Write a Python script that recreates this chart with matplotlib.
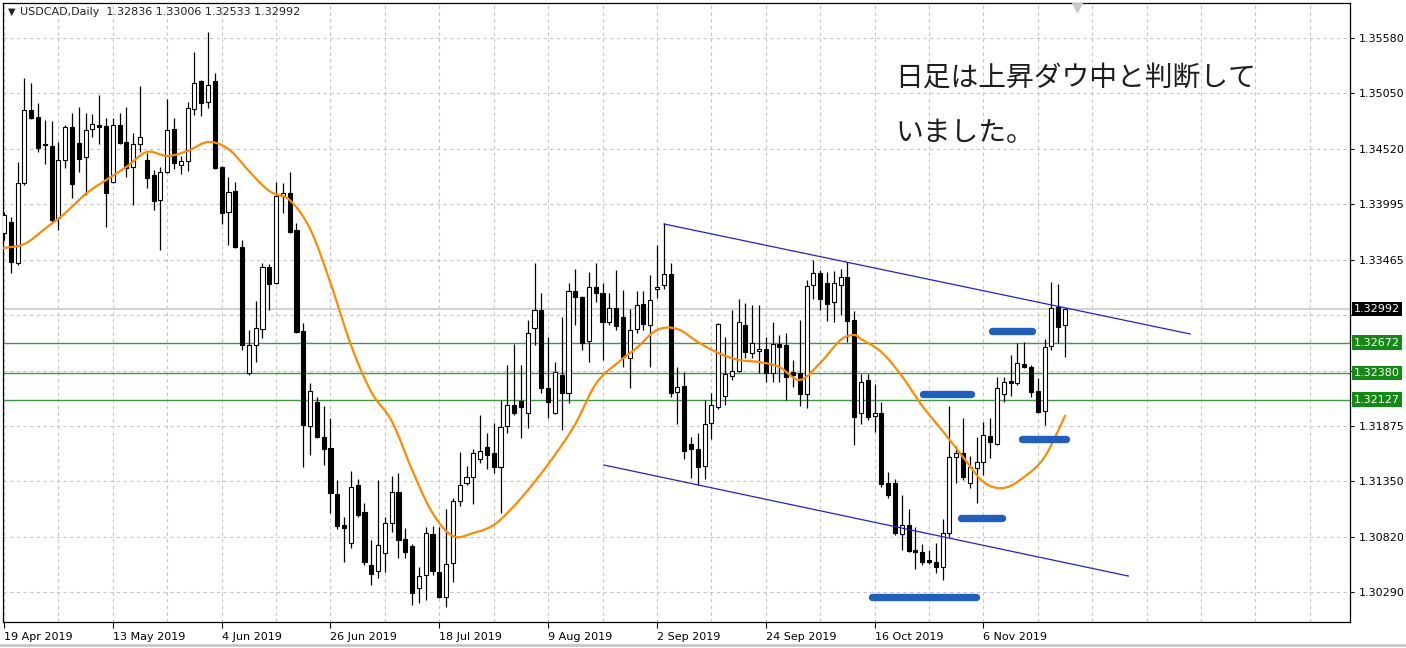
import numpy as np
import matplotlib.pyplot as plt
import matplotlib.transforms as mtransforms

# USDCAD daily candles, 19 Apr 2019 .. 22 Nov 2019
opens = [1.33718, 1.33823, 1.33432, 1.34196, 1.34893, 1.34826, 1.34568, 1.34549, 1.33862, 1.34415,
         1.34730, 1.34578, 1.34444, 1.34711, 1.34750, 1.34740, 1.34205, 1.34750, 1.34587, 1.34349,
         1.34568, 1.34415, 1.34272, 1.34033, 1.34301, 1.34711, 1.34368, 1.34406, 1.34902, 1.35170,
         1.34969, 1.35170, 1.34349, 1.33919, 1.34119, 1.33585, 1.32382, 1.32649, 1.32802, 1.33394,
         1.33241, 1.34072, 1.34100, 1.33747, 1.32783, 1.31876, 1.32105, 1.31771, 1.31666, 1.31226,
         1.30930, 1.30758, 1.31312, 1.31054, 1.30548, 1.30491, 1.30663, 1.30949, 1.31245, 1.30797,
         1.30730, 1.30329, 1.30453, 1.30844, 1.30482, 1.30243, 1.30568, 1.31160, 1.31331, 1.31389,
         1.31561, 1.31675, 1.31618, 1.31484, 1.31876, 1.32076, 1.32114, 1.32000, 1.32811, 1.32983,
         1.32238, 1.32000, 1.32363, 1.32191, 1.33165, 1.33107, 1.32687, 1.33203, 1.33145, 1.32869,
         1.33002, 1.32916, 1.32525, 1.32802, 1.33040, 1.32840, 1.33184, 1.33222, 1.33327, 1.32200,
         1.32258, 1.31704, 1.31656, 1.31494, 1.31904, 1.32057, 1.32162, 1.32353, 1.32401, 1.32840,
         1.32573, 1.32592, 1.32611, 1.32382, 1.32659, 1.32649, 1.32391, 1.32382, 1.32181, 1.33222,
         1.33336, 1.33241, 1.33060, 1.33222, 1.33298, 1.32888, 1.32000, 1.32315, 1.31971, 1.32000,
         1.31331, 1.31331, 1.30844, 1.30930, 1.30692, 1.30673, 1.30596, 1.30577, 1.30529, 1.30854,
         1.31580, 1.31618, 1.31331, 1.31475, 1.31532, 1.31780, 1.31704, 1.32181, 1.32305, 1.32286,
         1.32468, 1.32439, 1.32210, 1.32019, 1.32639, 1.33012, 1.32836]
highs = [1.33919, 1.33871, 1.34396, 1.35198, 1.35150, 1.34960, 1.34797, 1.34788, 1.34587, 1.34750,
         1.34864, 1.34921, 1.34864, 1.34855, 1.35036, 1.34816, 1.34816, 1.34864, 1.34921, 1.34673,
         1.35122, 1.34482, 1.34320, 1.34349, 1.34998, 1.34816, 1.34454, 1.34969, 1.35446, 1.35179,
         1.35637, 1.35246, 1.34358, 1.34253, 1.34205, 1.33652, 1.32792, 1.33069, 1.33432, 1.33422,
         1.34205, 1.34196, 1.34301, 1.33814, 1.32859, 1.32286, 1.32152, 1.32067, 1.31952, 1.31360,
         1.31007, 1.31446, 1.31370, 1.31140, 1.30787, 1.31360, 1.31007, 1.31398, 1.31427, 1.30902,
         1.30749, 1.30529, 1.30911, 1.30921, 1.30911, 1.31083, 1.31188, 1.31627, 1.31494, 1.31656,
         1.31981, 1.31809, 1.31904, 1.32124, 1.32458, 1.32659, 1.32458, 1.32888, 1.33432, 1.33145,
         1.32725, 1.32487, 1.32916, 1.33241, 1.33375, 1.33117, 1.33346, 1.33432, 1.33241, 1.33145,
         1.33365, 1.33174, 1.32993, 1.33165, 1.33165, 1.33317, 1.33604, 1.33814, 1.33432, 1.32439,
         1.32391, 1.31771, 1.31809, 1.32124, 1.32191, 1.32859, 1.32725, 1.32983, 1.33088, 1.33050,
         1.33031, 1.33031, 1.32725, 1.32869, 1.32744, 1.32764, 1.32506, 1.32888, 1.33270, 1.33461,
         1.33365, 1.33346, 1.33356, 1.33375, 1.33441, 1.32974, 1.32372, 1.32372, 1.32277, 1.32105,
         1.31436, 1.31370, 1.31217, 1.31083, 1.30911, 1.30749, 1.30692, 1.30758, 1.30988, 1.32067,
         1.31685, 1.31952, 1.31589, 1.31771, 1.31914, 1.31952, 1.32343, 1.32343, 1.32554, 1.32668,
         1.32678, 1.32458, 1.32334, 1.32706, 1.33251, 1.33231, 1.33006]
lows = [1.33652, 1.33336, 1.33413, 1.34177, 1.34807, 1.34492, 1.34377, 1.33814, 1.33747, 1.34339,
        1.34053, 1.34301, 1.34081, 1.34635, 1.34568, 1.33776, 1.34196, 1.34568, 1.34253, 1.33986,
        1.34492, 1.34148, 1.33938, 1.33556, 1.34291, 1.34329, 1.34282, 1.34310, 1.34845, 1.34835,
        1.34912, 1.34329, 1.33804, 1.33604, 1.33575, 1.32601, 1.32362, 1.32487, 1.32716, 1.32983,
        1.33231, 1.33909, 1.33718, 1.32764, 1.31484, 1.31599, 1.31761, 1.31503, 1.31045, 1.30892,
        1.30577, 1.30711, 1.31007, 1.30548, 1.30357, 1.30424, 1.30482, 1.30864, 1.30615, 1.30615,
        1.30167, 1.30186, 1.30214, 1.30453, 1.30233, 1.30147, 1.30386, 1.31112, 1.31312, 1.31131,
        1.31522, 1.31465, 1.31427, 1.31045, 1.31809, 1.31981, 1.31761, 1.31857, 1.32649, 1.32191,
        1.31952, 1.31990, 1.31837, 1.32095, 1.32840, 1.32601, 1.32487, 1.33060, 1.32506, 1.32840,
        1.32792, 1.32439, 1.32238, 1.32764, 1.32792, 1.32439, 1.33098, 1.33184, 1.32152, 1.31895,
        1.31561, 1.31379, 1.31312, 1.31370, 1.31751, 1.32038, 1.32076, 1.32315, 1.32391, 1.32525,
        1.32525, 1.32382, 1.32296, 1.32296, 1.32296, 1.32124, 1.32248, 1.32067, 1.32047, 1.33088,
        1.32983, 1.32878, 1.32869, 1.32935, 1.32678, 1.31694, 1.31895, 1.31933, 1.31818, 1.31293,
        1.31188, 1.30835, 1.30692, 1.30673, 1.30510, 1.30548, 1.30558, 1.30472, 1.30405, 1.30816,
        1.31331, 1.31360, 1.31284, 1.31140, 1.31408, 1.31570, 1.31694, 1.32105, 1.32162, 1.32267,
        1.32429, 1.32152, 1.32000, 1.31885, 1.32601, 1.32668, 1.32533]
closes = [1.33890, 1.33441, 1.34196, 1.34893, 1.34816, 1.34530, 1.34559, 1.33842, 1.34415, 1.34730,
          1.34186, 1.34425, 1.34702, 1.34759, 1.34730, 1.34100, 1.34750, 1.34578, 1.34339, 1.34568,
          1.34635, 1.34244, 1.34024, 1.34301, 1.34702, 1.34387, 1.34406, 1.34912, 1.35150, 1.34960,
          1.35131, 1.34339, 1.33909, 1.34110, 1.33585, 1.32649, 1.32649, 1.32811, 1.33394, 1.33231,
          1.34072, 1.34100, 1.33728, 1.32773, 1.31885, 1.32210, 1.31771, 1.31656, 1.31236, 1.30921,
          1.30902, 1.31293, 1.31026, 1.30577, 1.30462, 1.30739, 1.30949, 1.31245, 1.30787, 1.30673,
          1.30281, 1.30443, 1.30854, 1.30491, 1.30243, 1.30558, 1.31160, 1.31312, 1.31389, 1.31618,
          1.31637, 1.31599, 1.31484, 1.31866, 1.32076, 1.32000, 1.32057, 1.32764, 1.32983, 1.32238,
          1.32105, 1.32391, 1.32191, 1.33165, 1.33107, 1.32668, 1.33203, 1.33145, 1.32869, 1.33002,
          1.32830, 1.32534, 1.32792, 1.33031, 1.32849, 1.33079, 1.33203, 1.33327, 1.32191, 1.32248,
          1.31637, 1.31656, 1.31484, 1.31895, 1.32076, 1.32849, 1.32372, 1.32401, 1.32869, 1.32582,
          1.32668, 1.32611, 1.32382, 1.32659, 1.32630, 1.32343, 1.32363, 1.32181, 1.33212, 1.33336,
          1.33088, 1.33040, 1.33241, 1.33298, 1.32878, 1.31962, 1.32296, 1.31962, 1.32000, 1.31322,
          1.31217, 1.30854, 1.30930, 1.30682, 1.30673, 1.30577, 1.30577, 1.30529, 1.30854, 1.31580,
          1.31618, 1.31389, 1.31484, 1.31532, 1.31790, 1.31723, 1.32238, 1.32296, 1.32286, 1.32477,
          1.32439, 1.32200, 1.32009, 1.32630, 1.33002, 1.32821, 1.32992]

# moving average (orange), read every few bars
ma_idx = [0, 3, 6, 9, 12, 15, 18, 21, 24, 27, 30, 33, 36, 39, 42, 45, 48, 51, 54, 57,
          60, 63, 66, 69, 72, 75, 78, 81, 84, 87, 90, 93, 96, 99, 102, 105, 108, 111, 114, 117,
          120, 123, 125, 126, 129, 132, 135, 138, 141, 144, 147, 150, 153, 156]
ma_val = [1.33575, 1.33613, 1.33757, 1.33909, 1.34091, 1.34224, 1.34349, 1.34492, 1.34454, 1.34501,
          1.34587, 1.34520, 1.34310, 1.34119, 1.34033, 1.33757, 1.33241, 1.32649, 1.32200, 1.31923,
          1.31455, 1.31045, 1.30825, 1.30854, 1.30930, 1.31112, 1.31341, 1.31599, 1.31895, 1.32277,
          1.32468, 1.32620, 1.32792, 1.32802, 1.32678, 1.32573, 1.32506, 1.32487, 1.32439, 1.32315,
          1.32477, 1.32697, 1.32744, 1.32706, 1.32582, 1.32353, 1.32067, 1.31828, 1.31580, 1.31341,
          1.31284, 1.31389, 1.31580, 1.31971]

date_idx = [0, 16, 32, 48, 64, 80, 96, 112, 128, 144]
date_lbl = ['19 Apr 2019', '13 May 2019', '4 Jun 2019', '26 Jun 2019', '18 Jul 2019',
            '9 Aug 2019', '2 Sep 2019', '24 Sep 2019', '16 Oct 2019', '6 Nov 2019']

price_ticks = [1.35580, 1.35050, 1.34520, 1.33995, 1.33465, 1.32935, 1.32405,
               1.31875, 1.31350, 1.30820, 1.30290]
hidden_ticks = [1.32935, 1.32405]   # covered by the price boxes
levels = [1.32672, 1.32380, 1.32127]
last_price = 1.32992

# channel lines (bar index, price)
upper_line = ([97.06, 174.4], [1.33804, 1.32754])
lower_line = ([88.2, 165.3], [1.31503, 1.30443])

# hand-drawn blue markers: (start bar, end bar, price)
marks = [(145.3, 151.2, 1.32778), (135.1, 142.2, 1.32181), (149.7, 156.2, 1.31751),
         (140.7, 146.8, 1.30997), (127.6, 142.9, 1.30243)]

note = '日足は上昇ダウ中と判断して\nいました。'


def catmull(xs, ys, n=10):
    # smooth polyline through the read points
    xs = np.asarray(xs, float)
    ys = np.asarray(ys, float)
    px = np.concatenate([[2 * xs[0] - xs[1]], xs, [2 * xs[-1] - xs[-2]]])
    py = np.concatenate([[2 * ys[0] - ys[1]], ys, [2 * ys[-1] - ys[-2]]])
    ox, oy = [], []
    t = np.linspace(0, 1, n, endpoint=False)
    for k in range(1, len(px) - 2):
        for arr, out in ((px, ox), (py, oy)):
            p0, p1, p2, p3 = arr[k - 1], arr[k], arr[k + 1], arr[k + 2]
            out.extend(0.5 * (2 * p1 + (-p0 + p2) * t + (2 * p0 - 5 * p1 + 4 * p2 - p3) * t ** 2
                              + (-p0 + 3 * p1 - 3 * p2 + p3) * t ** 3))
    ox.append(xs[-1])
    oy.append(ys[-1])
    return ox, oy


W, H = 1406, 648
fig = plt.figure(figsize=(W / 100, H / 100), dpi=100)
ax = fig.add_axes([3 / W, 26 / H, 1347 / W, 619 / H])
ax.set_xlim(-0.15, 197.9)
ax.set_ylim(1.30004, 1.35914)

# grid
for p in price_ticks:
    ax.axhline(p, color='#c4c4c4', lw=0.8, dashes=(3, 3), zorder=0)
for i in range(0, 198, 8):
    ax.axvline(i, color='#c4c4c4', lw=0.8, dashes=(3, 3), zorder=0)

ax.axhline(last_price, color='#cfcfcf', lw=1.3, zorder=1)
for p in levels:
    ax.axhline(p, color='#3c9a3c', lw=1.0, zorder=1)

o = np.array(opens)
h = np.array(highs)
l = np.array(lows)
c = np.array(closes)
x = np.arange(len(o))

ax.vlines(x, l, h, color='black', lw=0.9, zorder=3)
up = c >= o
body = np.where(np.abs(c - o) < 0.00003, 0.00003, c - o)
ax.bar(x[up], body[up], bottom=o[up], width=0.6, color='white', edgecolor='black', lw=0.8, zorder=4)
ax.bar(x[~up], body[~up], bottom=o[~up], width=0.6, color='black', edgecolor='black', lw=0.8, zorder=4)

mx, my = catmull(ma_idx, ma_val)
ax.plot(mx, my, color='#ff8c00', lw=1.6, zorder=5)

ax.plot(*upper_line, color='#2020d8', lw=0.9, zorder=5)
ax.plot(*lower_line, color='#2020d8', lw=0.9, zorder=5)

for a, b, p in marks:
    ax.plot([a, b], [p, p], color='#1f5fbf', lw=5.3, solid_capstyle='round', zorder=6)

# chart shift marker
ax.plot([157.8], [1.35875], marker='v', color='#c8c8c8', ms=7, zorder=6)

# axes styling
for s in ax.spines.values():
    s.set_color('black')
    s.set_linewidth(0.9)
ax.yaxis.tick_right()
ax.set_yticks(price_ticks)
ax.set_yticklabels(['' if p in hidden_ticks else '%.5f' % p for p in price_ticks])
ax.tick_params(axis='y', length=3, width=0.8, pad=3, labelsize=8, colors='black')
ax.set_xticks(date_idx)
ax.set_xticklabels(date_lbl)
ax.tick_params(axis='x', length=4, width=0.8, pad=3, labelsize=8, colors='black')
for t in ax.get_xticklabels():
    t.set_ha('left')

# price boxes on the right axis
trans = mtransforms.blended_transform_factory(ax.transAxes, ax.transData)
ax.text(1 + 4 / 1347, last_price, '%.5f' % last_price, transform=trans, ha='left', va='center',
        fontsize=8, color='white', zorder=10, clip_on=False,
        bbox=dict(boxstyle='square,pad=0.2', fc='black', ec='none'))
for p in levels:
    ax.text(1 + 4 / 1347, p, '%.5f' % p, transform=trans, ha='left', va='center',
            fontsize=8, color='white', zorder=10, clip_on=False,
            bbox=dict(boxstyle='square,pad=0.2', fc='#138a13', ec='none'))

# header
fig.text(8 / W, 1 - 12 / H, '▼', fontsize=7, color='#222222', va='center')
fig.text(20 / W, 1 - 12 / H, 'USDCAD,Daily  1.32836 1.33006 1.32533 1.32992',
         fontsize=8, color='#222222', va='center')

ax.text(131.0, 1.35345, note, fontsize=20, color='#1e1e1e', va='top', ha='left',
        family=['Noto Sans CJK JP', 'DejaVu Sans'], linespacing=2.1, zorder=7)

fig.add_artist(plt.Line2D([0, 1], [3 / H, 3 / H], color='#c8c8c8', lw=2))

fig.savefig('out.png', dpi=100)
